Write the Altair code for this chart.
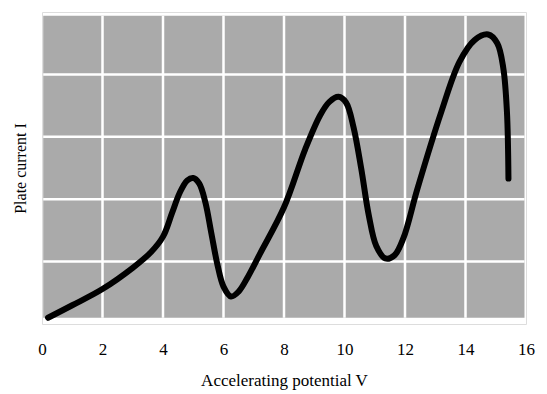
import altair as alt
import pandas as pd

# Curve (accelerating potential V, plate current I in grid units)
volts = [0.2, 1.0, 2.0, 3.0, 3.6, 4.0, 4.3, 4.55, 4.8, 5.0, 5.2, 5.4, 5.6, 5.8, 6.0, 6.25,
         6.5, 6.8, 7.2, 8.0, 8.7, 9.2, 9.5, 9.8, 10.05, 10.3, 10.55, 10.8, 11.05, 11.35,
         11.65, 11.95, 12.4, 13.2, 13.8, 14.3, 14.75, 15.05, 15.25, 15.37, 15.42]
current = [0.1, 0.3, 0.56, 0.9, 1.15, 1.4, 1.78, 2.1, 2.3, 2.34, 2.25, 1.95, 1.45, 0.95, 0.6,
           0.44, 0.52, 0.75, 1.12, 1.87, 2.8, 3.35, 3.56, 3.64, 3.55, 3.15, 2.5, 1.75, 1.25,
           1.05, 1.1, 1.38, 2.15, 3.4, 4.2, 4.55, 4.64, 4.5, 4.1, 3.4, 2.33]
x_ticks = [0, 2, 4, 6, 8, 10, 12, 14, 16]
x_grid = [2, 4, 6, 8, 10, 12, 14]
y_grid = [1, 2, 3, 4]
box_left, box_right = 0.04, 15.95
box_bottom, box_top = 0.1, 4.94

curve = pd.DataFrame({"V": volts, "I": current, "i": list(range(len(volts)))})
box = pd.DataFrame({"x": [box_left], "x2": [box_right], "y": [box_bottom], "y2": [box_top]})
xg = pd.DataFrame({"x": x_grid, "y": box_bottom, "y2": box_top})
yg = pd.DataFrame({"y": y_grid, "x": box_left, "x2": box_right})

FONT = "Liberation Serif"
xscale = alt.Scale(domain=[0, 16], nice=False, zero=False)
yscale = alt.Scale(domain=[0, 5], nice=False)

bg = alt.Chart(box).mark_rect(color="#aaaaaa").encode(
    x=alt.X("x:Q", scale=xscale,
            axis=alt.Axis(values=x_ticks, title="Accelerating potential V", grid=False,
                          domain=False, ticks=False, labelFont=FONT, labelFontSize=17,
                          labelColor="black", labelPadding=17, labelFlush=False,
                          titleFont=FONT, titleFontSize=17, titleFontWeight="normal",
                          titleColor="black", titlePadding=15)),
    x2="x2:Q",
    y=alt.Y("y:Q", scale=yscale,
            axis=alt.Axis(title="Plate current  I", labels=False, ticks=False, domain=False,
                          grid=False, titleFont=FONT, titleFontSize=16,
                          titleFontWeight="normal", titleColor="black", titlePadding=14)),
    y2="y2:Q",
)

vgrid = alt.Chart(xg).mark_rule(color="white", strokeWidth=2.5).encode(
    x=alt.X("x:Q", scale=xscale), y=alt.Y("y:Q", scale=yscale), y2="y2:Q"
)
hgrid = alt.Chart(yg).mark_rule(color="white", strokeWidth=2.5).encode(
    y=alt.Y("y:Q", scale=yscale), x=alt.X("x:Q", scale=xscale), x2="x2:Q"
)

line = alt.Chart(curve).mark_line(color="black", strokeWidth=6, interpolate="catmull-rom",
                                  strokeCap="round").encode(
    x=alt.X("V:Q", scale=xscale),
    y=alt.Y("I:Q", scale=yscale),
    order="i:Q",
)

chart = alt.layer(bg, vgrid, hgrid, line).properties(
    width=484, height=312,
    autosize=alt.AutoSizeParams(type="none"),
    padding={"left": 34, "top": 4, "right": 13, "bottom": 68},
).configure_view(stroke=None).configure(background="white")

chart.save("out.html", embed_options={"renderer": "svg", "actions": False})
